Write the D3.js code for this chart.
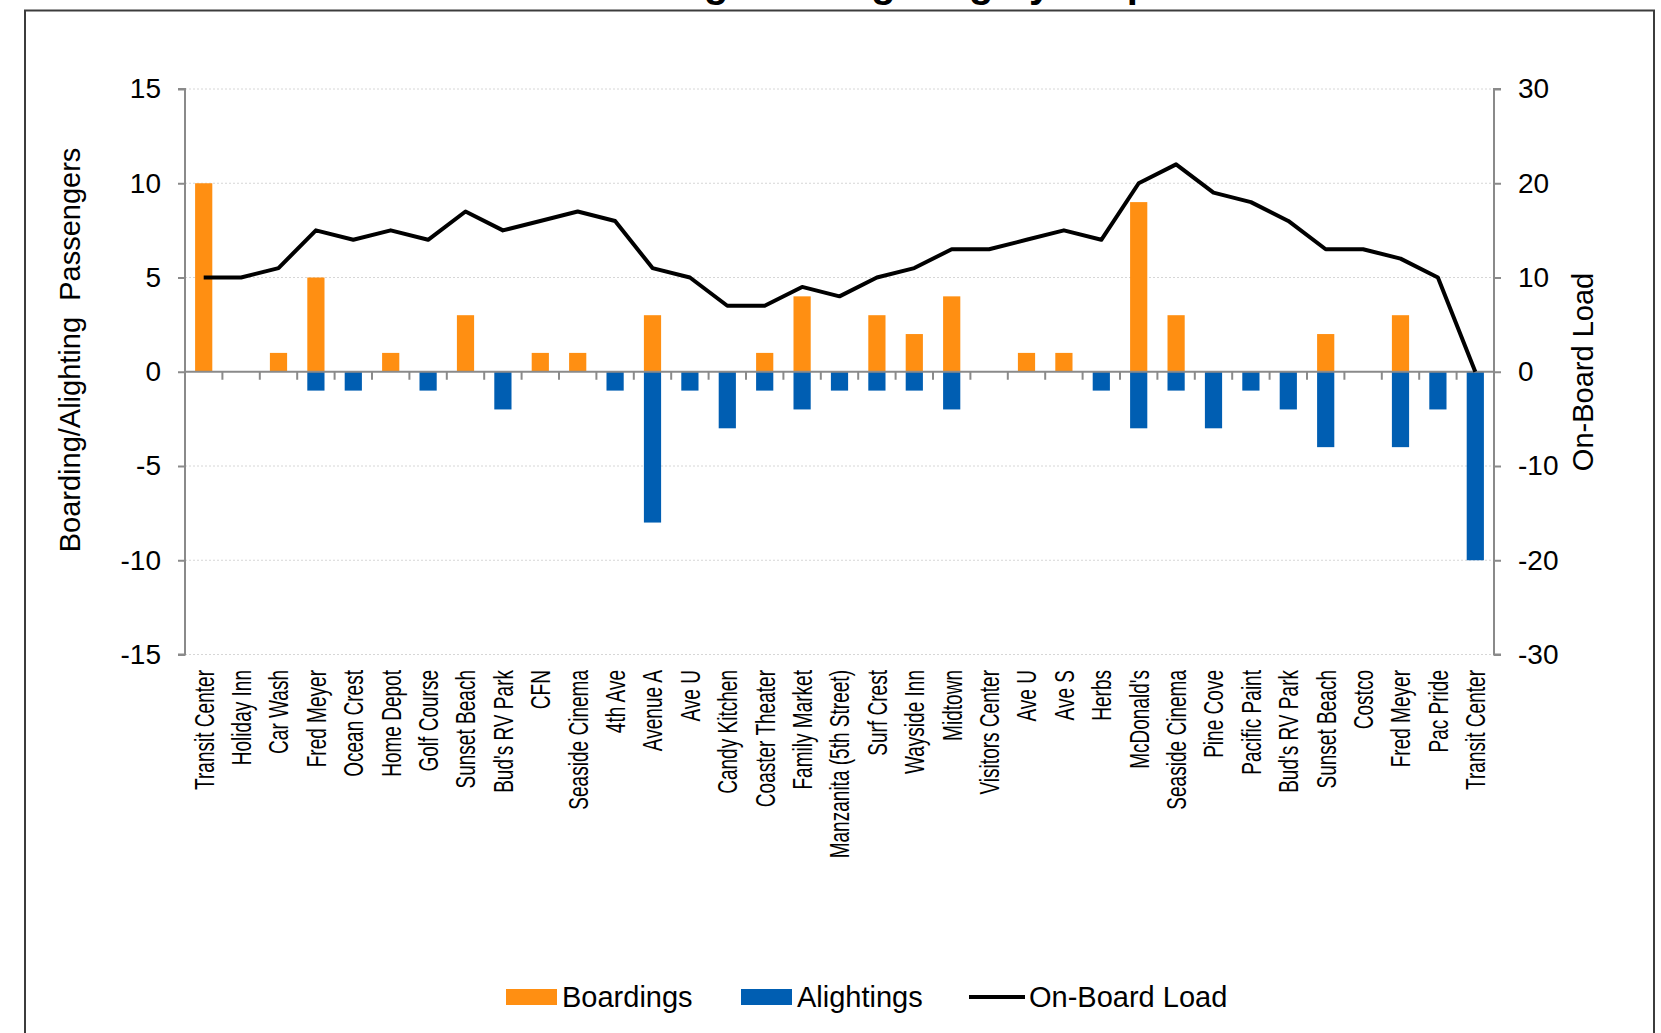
<!DOCTYPE html>
<html>
<head>
<meta charset="utf-8">
<script src="https://cdn.jsdelivr.net/npm/d3@7"></script>
<style>
  html, body { margin: 0; padding: 0; background: #fff; }
  svg { display: block; font-family: "Liberation Sans", Arial, sans-serif; }
</style>
</head>
<body>
<svg id="chart" width="1661" height="1033"></svg>
<script>
const stops = ["Transit Center","Holiday Inn","Car Wash","Fred Meyer","Ocean Crest","Home Depot","Golf Course","Sunset Beach","Bud's RV Park","CFN","Seaside Cinema","4th Ave","Avenue A","Ave U","Candy Kitchen","Coaster Theater","Family Market","Manzanita (5th Street)","Surf Crest","Wayside Inn","Midtown","Visitors Center","Ave U","Ave S","Herbs","McDonald's","Seaside Cinema","Pine Cove","Pacific Paint","Bud's RV Park","Sunset Beach","Costco","Fred Meyer","Pac Pride","Transit Center"];
const boardings = [10,0,1,5,0,1,0,3,0,1,1,0,3,0,0,1,4,0,3,2,4,0,1,1,0,9,3,0,0,0,2,0,3,0,0];
const alightings = [0,0,0,-1,-1,0,-1,0,-2,0,0,-1,-8,-1,-3,-1,-2,-1,-1,-1,-2,0,0,0,-1,-3,-1,-3,-1,-2,-4,0,-4,-2,-10];
const onBoardLoad = [10,10,11,15,14,15,14,17,15,16,17,16,11,10,7,7,9,8,10,11,13,13,14,15,14,20,22,19,18,16,13,13,12,10,0];
const leftTicks = [15,10,5,0,-5,-10,-15];
const rightTicks = [30,20,10,0,-10,-20,-30];
const titleText = "Boarding and Alighting by Stop";
const leftTitle = "Boarding/Alighting  Passengers";
const rightTitle = "On-Board Load";
const legendItems = [
  {name: "Boardings", type: "bar", color: "#FF8F12"},
  {name: "Alightings", type: "bar", color: "#005EB2"},
  {name: "On-Board Load", type: "line", color: "#000"}
];

const svg = d3.select("#chart");
const L = 185, R = 1494, T = 89, B = 654.5;

// frame
svg.append("rect").attr("x", 25).attr("y", 10.5).attr("width", 1629).attr("height", 1040)
  .attr("fill", "none").attr("stroke", "#3c3c3c").attr("stroke-width", 2);

// title (cut off at the top, as in the reference)
svg.append("text").attr("x", 852).attr("y", -3).attr("text-anchor", "middle")
  .attr("font-size", 40).attr("font-weight", "bold").attr("fill", "#000").text(titleText);

const idx = d3.range(stops.length);
const x = d3.scaleBand().domain(idx).range([L, R]).paddingInner(0).paddingOuter(0);
const yL = d3.scaleLinear().domain([-15, 15]).range([B, T]);
const yR = d3.scaleLinear().domain([-30, 30]).range([B, T]);
const barW = x.bandwidth() * 0.46;

// gridlines
svg.append("g").selectAll("line").data(leftTicks.filter(d => d !== 0)).join("line")
  .attr("x1", L).attr("x2", R).attr("y1", d => yL(d)).attr("y2", d => yL(d))
  .attr("stroke", "#d6d6d6").attr("stroke-width", 1).attr("stroke-dasharray", "2,2");

// bars
svg.append("g").selectAll("rect").data(idx.filter(i => boardings[i] !== 0)).join("rect")
  .attr("x", i => x(i) + (x.bandwidth() - barW) / 2).attr("width", barW)
  .attr("y", i => yL(boardings[i])).attr("height", i => yL(0) - yL(boardings[i]))
  .attr("fill", legendItems[0].color);
svg.append("g").selectAll("rect").data(idx.filter(i => alightings[i] !== 0)).join("rect")
  .attr("x", i => x(i) + (x.bandwidth() - barW) / 2).attr("width", barW)
  .attr("y", yL(0)).attr("height", i => yL(alightings[i]) - yL(0))
  .attr("fill", legendItems[1].color);

// axes
const axisColor = "#8a8a8a";
const fmt = d => String(d);
const gL = svg.append("g").attr("transform", `translate(${L},0)`)
  .call(d3.axisLeft(yL).tickValues(leftTicks).tickSize(7).tickPadding(17).tickFormat(fmt));
const gR = svg.append("g").attr("transform", `translate(${R},0)`)
  .call(d3.axisRight(yR).tickValues(rightTicks).tickSize(7).tickPadding(17).tickFormat(fmt));
[gL, gR].forEach(g => {
  g.select(".domain").attr("stroke", axisColor).attr("stroke-width", 2)
    .attr("d", g === gL ? `M-7,${T}H0V${B}H-7` : `M7,${T}H0V${B}H7`);
  g.selectAll(".tick line").attr("stroke", axisColor).attr("stroke-width", 2);
  g.selectAll(".tick text").attr("font-size", 28).attr("fill", "#000")
    .attr("font-family", "'Liberation Sans', Arial, sans-serif");
});

// category axis along zero line
const gX = svg.append("g").attr("transform", `translate(0,${yL(0)})`);
gX.append("line").attr("x1", L).attr("x2", R).attr("stroke", axisColor).attr("stroke-width", 2);
gX.selectAll("line.tk").data(d3.range(1, stops.length)).join("line").attr("class", "tk")
  .attr("x1", i => x(i)).attr("x2", i => x(i)).attr("y1", 0).attr("y2", 8)
  .attr("stroke", axisColor).attr("stroke-width", 2);

// category labels
svg.append("g").selectAll("text").data(idx).join("text")
  .attr("transform", i => `translate(${x(i) + x.bandwidth() / 2},670) rotate(-90) scale(0.68,1)`)
  .attr("text-anchor", "end").attr("dominant-baseline", "central")
  .attr("font-size", 28).attr("fill", "#000").text(i => stops[i]);

// on-board load line
const line = d3.line().x(i => x(i) + x.bandwidth() / 2).y(i => yR(onBoardLoad[i]));
svg.append("path").datum(idx).attr("d", line).attr("fill", "none")
  .attr("stroke", "#000").attr("stroke-width", 4).attr("stroke-linejoin", "round");

// axis titles
svg.append("text").attr("transform", "translate(70,350) rotate(-90)")
  .attr("text-anchor", "middle").attr("dominant-baseline", "central")
  .attr("font-size", 29).attr("fill", "#000").style("white-space", "pre").text(leftTitle);
svg.append("text").attr("transform", "translate(1583,372) rotate(-90)")
  .attr("text-anchor", "middle").attr("dominant-baseline", "central")
  .attr("font-size", 29).attr("fill", "#000").text(rightTitle);

// legend
const legX = [506, 741, 969];
const lg = svg.append("g").selectAll("g").data(legendItems).join("g")
  .attr("transform", (d, i) => `translate(${legX[i]},997)`);
lg.filter(d => d.type === "bar").append("rect").attr("x", 0).attr("y", -8).attr("width", 51).attr("height", 16)
  .attr("fill", d => d.color);
lg.filter(d => d.type === "line").append("line").attr("x1", 0).attr("x2", 56).attr("y1", 0).attr("y2", 0)
  .attr("stroke", d => d.color).attr("stroke-width", 4);
lg.append("text").attr("x", d => d.type === "line" ? 60 : 56).attr("y", 0)
  .attr("dominant-baseline", "central").attr("font-size", 29).attr("fill", "#000").text(d => d.name);
</script>
</body>
</html>
